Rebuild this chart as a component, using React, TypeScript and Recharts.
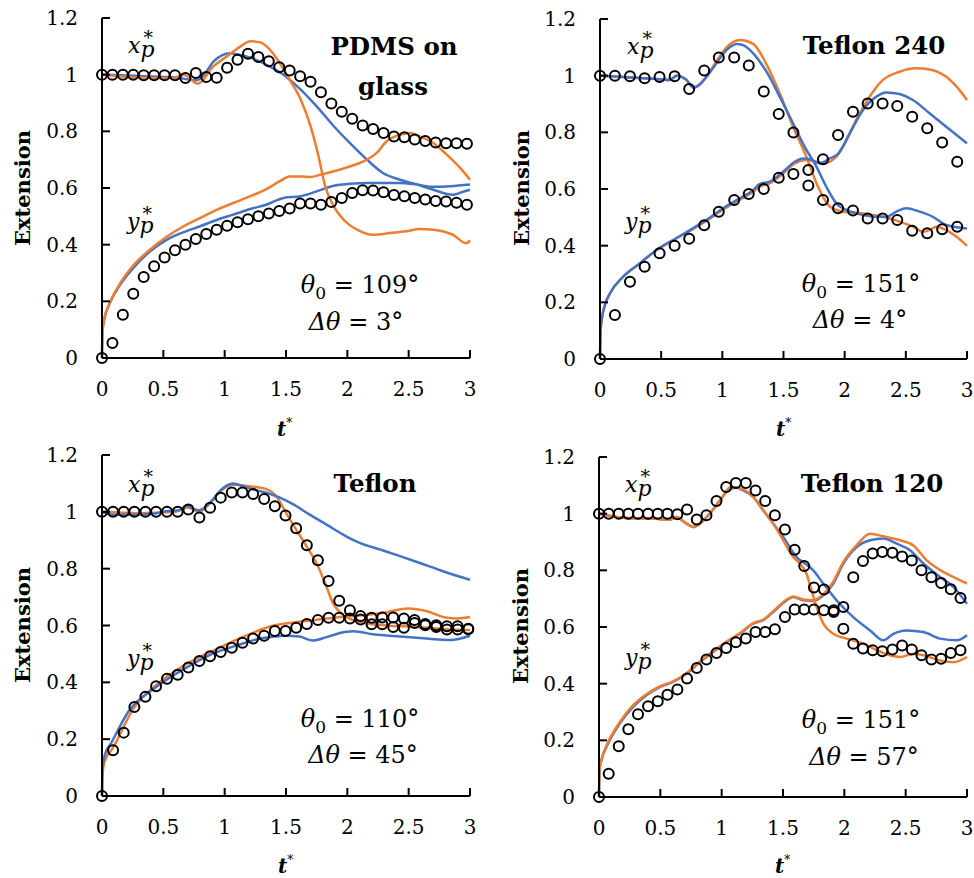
import React from 'react';
import { ComposedChart, Line, Scatter, XAxis, YAxis } from 'recharts';

const FONT = "'DejaVu Serif', serif";
const BLUE = '#4472C4';
const ORANGE = '#ED7D31';

const xTicks = [0, 0.5, 1, 1.5, 2, 2.5, 3];
const yTicks = [0, 0.2, 0.4, 0.6, 0.8, 1, 1.2];

// ---------- Panel 1: PDMS on glass ----------
const p1ExpT = [0, 0.085, 0.17, 0.255, 0.34, 0.425, 0.51, 0.595, 0.68, 0.765, 0.85, 0.935, 1.02, 1.105, 1.19, 1.275, 1.36, 1.445, 1.53, 1.615, 1.7, 1.785, 1.87, 1.955, 2.04, 2.125, 2.21, 2.295, 2.38, 2.465, 2.55, 2.635, 2.72, 2.805, 2.89, 2.975];
const p1ExpX = [1.0, 1.0, 1.0, 1.0, 0.998, 0.998, 0.998, 0.998, 0.988, 1.006, 0.992, 0.989, 1.024, 1.053, 1.074, 1.062, 1.047, 1.026, 1.015, 0.994, 0.975, 0.938, 0.898, 0.869, 0.844, 0.821, 0.808, 0.794, 0.782, 0.779, 0.771, 0.766, 0.761, 0.758, 0.758, 0.756];
const p1ExpY = [0, 0.053, 0.153, 0.227, 0.286, 0.324, 0.355, 0.38, 0.4, 0.42, 0.438, 0.453, 0.467, 0.479, 0.49, 0.5, 0.51, 0.519, 0.528, 0.545, 0.545, 0.541, 0.551, 0.565, 0.582, 0.592, 0.591, 0.585, 0.575, 0.571, 0.565, 0.559, 0.554, 0.552, 0.548, 0.541];
const p1BlueX = [[0, 1.0], [0.3, 0.995], [0.6, 0.99], [0.77, 0.98], [0.85, 1.01], [0.91, 1.047], [1.045, 1.076], [1.1, 1.072], [1.21, 1.06], [1.34, 1.035], [1.48, 1.0], [1.62, 0.947], [1.75, 0.888], [1.89, 0.818], [2.02, 0.759], [2.16, 0.7], [2.29, 0.653], [2.43, 0.629], [2.57, 0.612], [2.7, 0.594], [2.86, 0.576], [2.93, 0.585], [3.0, 0.594]];
const p1OrangeX = [[0, 1.0], [0.3, 0.99], [0.58, 0.988], [0.665, 1.0], [0.78, 0.968], [0.91, 1.03], [1.02, 1.065], [1.13, 1.1], [1.21, 1.118], [1.29, 1.114], [1.37, 1.088], [1.45, 1.04], [1.53, 0.982], [1.62, 0.912], [1.7, 0.818], [1.765, 0.712], [1.82, 0.606], [1.89, 0.535], [1.97, 0.488], [2.08, 0.453], [2.21, 0.435], [2.35, 0.441], [2.48, 0.447], [2.59, 0.455], [2.7, 0.453], [2.86, 0.435], [2.97, 0.405], [3.0, 0.415]];
const p1BlueY = [[0, 0], [0.005, 0.1], [0.02, 0.14], [0.06, 0.19], [0.15, 0.26], [0.26, 0.32], [0.39, 0.376], [0.53, 0.418], [0.665, 0.444], [0.8, 0.465], [0.94, 0.488], [1.07, 0.506], [1.21, 0.526], [1.34, 0.541], [1.48, 0.565], [1.62, 0.571], [1.75, 0.588], [1.89, 0.608], [2.02, 0.615], [2.16, 0.618], [2.43, 0.618], [2.57, 0.612], [2.7, 0.604], [2.84, 0.606], [3.0, 0.612]];
const p1OrangeY = [[0, 0], [0.005, 0.1], [0.02, 0.14], [0.06, 0.19], [0.15, 0.265], [0.26, 0.329], [0.39, 0.382], [0.53, 0.429], [0.665, 0.465], [0.8, 0.494], [0.94, 0.524], [1.07, 0.547], [1.21, 0.571], [1.34, 0.596], [1.45, 0.624], [1.53, 0.641], [1.62, 0.641], [1.7, 0.639], [1.78, 0.647], [1.89, 0.659], [2.02, 0.676], [2.16, 0.7], [2.24, 0.724], [2.32, 0.765], [2.43, 0.788], [2.51, 0.794], [2.59, 0.782], [2.7, 0.759], [2.81, 0.718], [2.92, 0.671], [3.0, 0.629]];

// ---------- Panel 2: Teflon 240 ----------
const p2ExpT = [0, 0.122, 0.245, 0.365, 0.487, 0.61, 0.729, 0.852, 0.971, 1.097, 1.216, 1.339, 1.461, 1.581, 1.703, 1.823, 1.946, 2.068, 2.188, 2.31, 2.43, 2.552, 2.675, 2.797, 2.92];
const p2ExpX = [1.0, 1.0, 0.998, 0.991, 0.995, 0.998, 0.953, 1.018, 1.064, 1.064, 1.036, 0.944, 0.865, 0.799, 0.612, 0.561, 0.532, 0.524, 0.496, 0.496, 0.491, 0.453, 0.444, 0.458, 0.467];
const p2ExpY = [0, 0.155, 0.273, 0.326, 0.373, 0.4, 0.424, 0.472, 0.52, 0.561, 0.582, 0.6, 0.64, 0.653, 0.667, 0.705, 0.791, 0.873, 0.902, 0.902, 0.893, 0.855, 0.814, 0.764, 0.696];
const p2BlueX = [[0, 1.0], [0.19, 0.995], [0.463, 0.988], [0.571, 0.985], [0.626, 1.0], [0.707, 0.985], [0.762, 0.958], [0.803, 0.965], [0.871, 0.996], [0.952, 1.044], [1.034, 1.09], [1.116, 1.112], [1.17, 1.108], [1.252, 1.079], [1.361, 1.014], [1.469, 0.926], [1.578, 0.832], [1.673, 0.749], [1.769, 0.679], [1.85, 0.608], [1.932, 0.549], [2.014, 0.526], [2.095, 0.514], [2.259, 0.502], [2.34, 0.502], [2.422, 0.52], [2.503, 0.532], [2.612, 0.52], [2.721, 0.502], [2.83, 0.473], [3.0, 0.461]];
const p2OrangeX = [[0, 1.0], [0.19, 0.995], [0.463, 0.988], [0.571, 0.985], [0.626, 1.0], [0.707, 0.985], [0.762, 0.958], [0.803, 0.965], [0.871, 0.996], [0.952, 1.05], [1.034, 1.1], [1.143, 1.126], [1.252, 1.112], [1.361, 1.04], [1.469, 0.938], [1.578, 0.82], [1.687, 0.714], [1.782, 0.608], [1.878, 0.538], [1.986, 0.52], [2.15, 0.514], [2.313, 0.502], [2.449, 0.485], [2.558, 0.467], [2.639, 0.449], [2.694, 0.455], [2.748, 0.467], [2.83, 0.455], [2.912, 0.432], [3.0, 0.399]];
const p2BlueY = [[0, 0], [0.005, 0.1], [0.014, 0.138], [0.04, 0.19], [0.082, 0.232], [0.19, 0.291], [0.327, 0.338], [0.463, 0.385], [0.599, 0.42], [0.735, 0.455], [0.871, 0.491], [1.007, 0.532], [1.143, 0.567], [1.252, 0.596], [1.306, 0.618], [1.388, 0.626], [1.497, 0.661], [1.592, 0.696], [1.66, 0.708], [1.714, 0.705], [1.796, 0.691], [1.878, 0.708], [1.946, 0.724], [2.041, 0.796], [2.15, 0.879], [2.259, 0.926], [2.34, 0.941], [2.449, 0.935], [2.558, 0.914], [2.694, 0.867], [2.83, 0.82], [3.0, 0.761]];
const p2OrangeY = [[0, 0], [0.005, 0.1], [0.014, 0.138], [0.04, 0.19], [0.082, 0.232], [0.19, 0.291], [0.327, 0.338], [0.463, 0.385], [0.599, 0.42], [0.735, 0.452], [0.871, 0.488], [1.007, 0.528], [1.143, 0.562], [1.252, 0.59], [1.306, 0.608], [1.388, 0.62], [1.497, 0.655], [1.592, 0.69], [1.687, 0.702], [1.769, 0.696], [1.823, 0.69], [1.932, 0.714], [1.986, 0.749], [2.095, 0.844], [2.204, 0.926], [2.313, 0.985], [2.449, 1.014], [2.585, 1.026], [2.694, 1.022], [2.83, 0.996], [2.939, 0.949], [3.0, 0.914]];

// ---------- Panel 3: Teflon ----------
const p3ExpT = [0, 0.09, 0.177, 0.264, 0.354, 0.441, 0.53, 0.617, 0.704, 0.794, 0.881, 0.968, 1.058, 1.145, 1.232, 1.322, 1.409, 1.496, 1.583, 1.67, 1.76, 1.847, 1.934, 2.021, 2.108, 2.198, 2.285, 2.374, 2.461, 2.548, 2.635, 2.725, 2.812, 2.899, 2.986];
const p3ExpX = [1.0, 1.0, 1.0, 1.0, 1.0, 1.0, 1.0, 1.0, 1.008, 0.98, 1.014, 1.05, 1.068, 1.068, 1.063, 1.045, 1.02, 0.987, 0.942, 0.882, 0.83, 0.757, 0.687, 0.654, 0.633, 0.627, 0.628, 0.628, 0.625, 0.619, 0.605, 0.601, 0.597, 0.597, 0.589];
const p3ExpY = [0, 0.161, 0.223, 0.313, 0.349, 0.386, 0.413, 0.427, 0.452, 0.475, 0.492, 0.507, 0.522, 0.539, 0.554, 0.564, 0.581, 0.581, 0.592, 0.605, 0.619, 0.627, 0.627, 0.625, 0.621, 0.604, 0.604, 0.595, 0.592, 0.609, 0.601, 0.595, 0.586, 0.586, 0.587];
const p3BlueX = [[0, 1.0], [0.09, 0.99], [0.25, 0.99], [0.41, 0.993], [0.52, 1.002], [0.63, 1.006], [0.69, 1.022], [0.74, 1.012], [0.79, 1.006], [0.88, 1.032], [0.96, 1.073], [1.04, 1.097], [1.07, 1.1], [1.15, 1.09], [1.23, 1.079], [1.34, 1.067], [1.45, 1.05], [1.56, 1.026], [1.69, 0.991], [1.83, 0.955], [1.99, 0.914], [2.1, 0.891], [2.27, 0.867], [2.43, 0.844], [2.59, 0.82], [2.78, 0.791], [3.0, 0.761]];
const p3OrangeX = [[0, 1.0], [0.3, 0.995], [0.6, 1.0], [0.7, 1.015], [0.79, 1.0], [0.88, 1.03], [0.96, 1.07], [1.06, 1.095], [1.2, 1.09], [1.34, 1.08], [1.42, 1.055], [1.5, 0.997], [1.585, 0.936], [1.67, 0.877], [1.75, 0.818], [1.82, 0.748], [1.885, 0.677], [1.97, 0.636], [2.1, 0.613], [2.29, 0.601], [2.56, 0.595], [2.84, 0.586], [3.0, 0.584]];
const p3BlueY = [[0, 0], [0.005, 0.1], [0.02, 0.14], [0.08, 0.19], [0.22, 0.3], [0.43, 0.38], [0.68, 0.45], [0.9, 0.5], [1.1, 0.53], [1.3, 0.555], [1.5, 0.564], [1.61, 0.561], [1.72, 0.547], [1.83, 0.559], [1.99, 0.578], [2.05, 0.58], [2.21, 0.569], [2.43, 0.561], [2.62, 0.555], [2.84, 0.549], [3.0, 0.564]];
const p3OrangeY = [[0, 0], [0.005, 0.08], [0.02, 0.12], [0.09, 0.17], [0.26, 0.31], [0.44, 0.39], [0.65, 0.455], [0.9, 0.51], [1.15, 0.56], [1.4, 0.6], [1.55, 0.61], [1.75, 0.62], [1.95, 0.63], [2.1, 0.635], [2.3, 0.645], [2.5, 0.66], [2.65, 0.65], [2.8, 0.628], [2.9, 0.625], [3.0, 0.63]];

// ---------- Panel 4: Teflon 120 ----------
const p4ExpT = [0, 0.079, 0.161, 0.239, 0.318, 0.4, 0.479, 0.558, 0.639, 0.718, 0.797, 0.876, 0.958, 1.037, 1.116, 1.197, 1.276, 1.355, 1.434, 1.516, 1.595, 1.673, 1.752, 1.834, 1.913, 1.992, 2.073, 2.152, 2.231, 2.31, 2.392, 2.471, 2.55, 2.629, 2.71, 2.789, 2.868, 2.947];
const p4ExpX = [1.0, 1.0, 1.0, 1.0, 1.0, 1.0, 1.0, 1.0, 0.998, 1.015, 0.979, 0.994, 1.045, 1.094, 1.108, 1.108, 1.082, 1.045, 0.994, 0.944, 0.873, 0.815, 0.739, 0.732, 0.659, 0.594, 0.541, 0.524, 0.518, 0.514, 0.521, 0.535, 0.521, 0.5, 0.485, 0.488, 0.508, 0.518];
const p4ExpY = [0, 0.082, 0.179, 0.239, 0.292, 0.32, 0.338, 0.361, 0.379, 0.418, 0.455, 0.485, 0.508, 0.526, 0.546, 0.559, 0.582, 0.582, 0.592, 0.635, 0.662, 0.662, 0.662, 0.659, 0.653, 0.671, 0.776, 0.833, 0.859, 0.865, 0.862, 0.849, 0.835, 0.8, 0.776, 0.755, 0.733, 0.702];
const p4BlueX = [[0, 1.0], [0.196, 0.986], [0.468, 0.982], [0.577, 0.979], [0.631, 0.988], [0.713, 0.965], [0.767, 0.953], [0.822, 0.965], [0.903, 1.0], [0.985, 1.047], [1.053, 1.082], [1.121, 1.092], [1.176, 1.082], [1.257, 1.059], [1.339, 1.012], [1.42, 0.965], [1.502, 0.918], [1.57, 0.871], [1.624, 0.841], [1.665, 0.829], [1.747, 0.8], [1.829, 0.753], [1.937, 0.694], [2.073, 0.635], [2.21, 0.588], [2.318, 0.553], [2.4, 0.576], [2.508, 0.588], [2.645, 0.582], [2.781, 0.559], [2.917, 0.553], [3.0, 0.571]];
const p4OrangeX = [[0, 1.0], [0.196, 0.986], [0.468, 0.982], [0.577, 0.979], [0.631, 0.988], [0.713, 0.965], [0.767, 0.953], [0.822, 0.965], [0.903, 1.0], [0.985, 1.045], [1.075, 1.094], [1.176, 1.085], [1.257, 1.059], [1.339, 1.012], [1.42, 0.965], [1.502, 0.906], [1.583, 0.847], [1.638, 0.824], [1.692, 0.788], [1.733, 0.729], [1.774, 0.671], [1.829, 0.612], [1.91, 0.576], [2.019, 0.559], [2.155, 0.541], [2.264, 0.518], [2.373, 0.5], [2.454, 0.494], [2.563, 0.506], [2.645, 0.5], [2.781, 0.482], [2.89, 0.476], [3.0, 0.494]];
const p4BlueY = [[0, 0], [0.005, 0.1], [0.02, 0.13], [0.073, 0.188], [0.169, 0.259], [0.278, 0.318], [0.387, 0.359], [0.496, 0.388], [0.604, 0.406], [0.713, 0.435], [0.822, 0.476], [0.931, 0.512], [1.04, 0.547], [1.148, 0.576], [1.257, 0.612], [1.339, 0.624], [1.42, 0.653], [1.529, 0.694], [1.583, 0.706], [1.665, 0.694], [1.747, 0.692], [1.829, 0.712], [1.91, 0.753], [1.992, 0.824], [2.101, 0.882], [2.21, 0.906], [2.318, 0.912], [2.427, 0.894], [2.536, 0.871], [2.645, 0.824], [2.781, 0.776], [2.89, 0.741], [3.0, 0.682]];
const p4OrangeY = [[0, 0], [0.005, 0.1], [0.02, 0.132], [0.073, 0.192], [0.169, 0.264], [0.278, 0.324], [0.387, 0.363], [0.496, 0.39], [0.604, 0.408], [0.713, 0.437], [0.822, 0.478], [0.931, 0.514], [1.04, 0.549], [1.148, 0.578], [1.257, 0.614], [1.339, 0.626], [1.42, 0.655], [1.529, 0.697], [1.583, 0.708], [1.665, 0.697], [1.747, 0.694], [1.829, 0.716], [1.91, 0.76], [1.992, 0.83], [2.101, 0.889], [2.21, 0.929], [2.318, 0.92], [2.454, 0.906], [2.563, 0.888], [2.672, 0.835], [2.808, 0.794], [2.917, 0.771], [3.0, 0.753]];

type Pt = { t: number; v: number };
const zipPts = (ts: number[], vs: number[]): Pt[] => ts.map((t, i) => ({ t, v: vs[i] }));
const pairPts = (ps: number[][]): Pt[] => ps.map(([t, v]) => ({ t, v }));

const NoLabel = () => <g />;
const Ring = (props: any) => (
  <circle cx={props.cx} cy={props.cy} r={5} fill="none" stroke="#000" strokeWidth={2} />
);

const tickStyle = { fill: '#000', fontSize: 20, fontFamily: FONT };
const frame = { stroke: '#000', strokeWidth: 2 };

type PanelProps = {
  left: number;
  top: number;
  margin: { top: number; right: number; bottom: number; left: number };
  expT: number[];
  expX: number[];
  expY: number[];
  blueX: number[][];
  blueY: number[][];
  orangeX: number[][];
  orangeY: number[][];
  blueOnTop: boolean;
};

function Panel(p: PanelProps) {
  const blue = [
    <Line key="bx" data={pairPts(p.blueX)} dataKey="v" type="monotone" stroke={BLUE} strokeWidth={2.5} dot={false} isAnimationActive={false} />,
    <Line key="by" data={pairPts(p.blueY)} dataKey="v" type="monotone" stroke={BLUE} strokeWidth={2.5} dot={false} isAnimationActive={false} />,
  ];
  const orange = [
    <Line key="ox" data={pairPts(p.orangeX)} dataKey="v" type="monotone" stroke={ORANGE} strokeWidth={2.5} dot={false} isAnimationActive={false} />,
    <Line key="oy" data={pairPts(p.orangeY)} dataKey="v" type="monotone" stroke={ORANGE} strokeWidth={2.5} dot={false} isAnimationActive={false} />,
  ];
  const lines = p.blueOnTop ? [...orange, ...blue] : [...blue, ...orange];
  return (
    <div style={{ position: 'absolute', left: p.left, top: p.top }}>
      <ComposedChart width={487} height={439} margin={p.margin}>
        <XAxis
          type="number"
          dataKey="t"
          domain={[0, 3]}
          ticks={xTicks}
          height={40}
          tickSize={-8}
          tickMargin={32}
          tick={tickStyle}
          tickLine={frame}
          axisLine={frame}
        />
        <XAxis
          xAxisId="top"
          orientation="top"
          mirror
          type="number"
          dataKey="t"
          domain={[0, 3]}
          ticks={xTicks}
          height={0}
          tickSize={8}
          tick={NoLabel}
          tickLine={frame}
          axisLine={frame}
        />
        <YAxis
          type="number"
          domain={[0, 1.2]}
          ticks={yTicks}
          width={60}
          tickSize={-8}
          tickMargin={32}
          tick={tickStyle}
          tickLine={frame}
          axisLine={frame}
        />
        <YAxis
          yAxisId="right"
          orientation="right"
          mirror
          type="number"
          domain={[0, 1.2]}
          ticks={yTicks}
          width={0}
          tickSize={8}
          tick={NoLabel}
          tickLine={frame}
          axisLine={frame}
        />
        {lines}
        <Scatter data={zipPts(p.expT, p.expX)} dataKey="v" shape={Ring} isAnimationActive={false} />
        <Scatter data={zipPts(p.expT, p.expY)} dataKey="v" shape={Ring} isAnimationActive={false} />
      </ComposedChart>
    </div>
  );
}

function Theta({ cx, y, v }: { cx: number; y: number; v: string }) {
  return (
    <text x={cx} y={y} textAnchor="middle" fontSize={24} fontFamily={FONT} fill="#000">
      <tspan fontStyle="italic">θ</tspan>
      <tspan fontSize={17} dy={6}>0</tspan>
      <tspan dy={-6}>{` = ${v}°`}</tspan>
    </text>
  );
}
function Delta({ cx, y, v }: { cx: number; y: number; v: string }) {
  return (
    <text x={cx} y={y} textAnchor="middle" fontSize={24} fontFamily={FONT} fill="#000">
      <tspan fontStyle="italic">Δθ</tspan>
      <tspan>{` = ${v}°`}</tspan>
    </text>
  );
}
function Sym({ x, y, letter }: { x: number; y: number; letter: string }) {
  return (
    <text x={x} y={y} fontFamily={FONT} fill="#000" fontSize={22} fontStyle="italic">
      {letter}
      <tspan dy={4}>p</tspan>
      <tspan dx={-11} dy={-13} fontSize={19} fontStyle="normal">*</tspan>
    </text>
  );
}
function TLabel({ x, y }: { x: number; y: number }) {
  return (
    <text x={x} y={y} fontFamily={FONT} fill="#000" fontSize={20} fontStyle="italic" fontWeight="bold">
      t
      <tspan dy={-9} fontSize={12} fontStyle="normal" fontWeight="normal">*</tspan>
    </text>
  );
}
function ExtLabel({ cx, cy }: { cx: number; cy: number }) {
  return (
    <text
      x={cx}
      y={cy}
      transform={`rotate(-90 ${cx} ${cy})`}
      textAnchor="middle"
      dominantBaseline="central"
      fontSize={21}
      fontWeight="bold"
      fontFamily={FONT}
      fill="#000"
    >
      Extension
    </text>
  );
}

export default function App() {
  return (
    <div style={{ position: 'absolute', left: 0, top: 0, width: 974, height: 878, background: '#fff' }}>
      <Panel left={0} top={0} margin={{ top: 18, right: 17, bottom: 41, left: 42 }}
        expT={p1ExpT} expX={p1ExpX} expY={p1ExpY} blueX={p1BlueX} blueY={p1BlueY} orangeX={p1OrangeX} orangeY={p1OrangeY} blueOnTop={false} />
      <Panel left={487} top={0} margin={{ top: 19, right: 7, bottom: 40, left: 53 }}
        expT={p2ExpT} expX={p2ExpX} expY={p2ExpY} blueX={p2BlueX} blueY={p2BlueY} orangeX={p2OrangeX} orangeY={p2OrangeY} blueOnTop={true} />
      <Panel left={0} top={439} margin={{ top: 16, right: 17, bottom: 42, left: 42 }}
        expT={p3ExpT} expX={p3ExpX} expY={p3ExpY} blueX={p3BlueX} blueY={p3BlueY} orangeX={p3OrangeX} orangeY={p3OrangeY} blueOnTop={true} />
      <Panel left={487} top={439} margin={{ top: 18, right: 7, bottom: 41, left: 52 }}
        expT={p4ExpT} expX={p4ExpX} expY={p4ExpY} blueX={p4BlueX} blueY={p4BlueY} orangeX={p4OrangeX} orangeY={p4OrangeY} blueOnTop={false} />
      <svg width={974} height={878} style={{ position: 'absolute', left: 0, top: 0, pointerEvents: 'none' }}>
        <ExtLabel cx={22} cy={188} />
        <ExtLabel cx={521} cy={188} />
        <ExtLabel cx={22} cy={625} />
        <ExtLabel cx={520} cy={626} />
        <TLabel x={277} y={436} />
        <TLabel x={776} y={436} />
        <TLabel x={278} y={873} />
        <TLabel x={775} y={873} />
        <Sym x={128} y={53} letter="x" />
        <Sym x={127} y={229} letter="y" />
        <Sym x={627} y={54} letter="x" />
        <Sym x={625} y={229} letter="y" />
        <Sym x={128} y={492} letter="x" />
        <Sym x={127} y={666} letter="y" />
        <Sym x={625} y={492} letter="x" />
        <Sym x={625} y={665} letter="y" />
        <g fontFamily={FONT} fontWeight="bold" fontSize={24.5} fill="#000" textAnchor="middle">
          <text x={394} y={55}>PDMS on</text>
          <text x={393} y={95}>glass</text>
          <text x={874} y={54}>Teflon 240</text>
          <text x={375} y={492}>Teflon</text>
          <text x={872} y={492}>Teflon 120</text>
        </g>
        <Theta cx={360} y={293} v="109" />
        <Delta cx={356} y={330} v="3" />
        <Theta cx={861} y={292} v="151" />
        <Delta cx={860} y={328} v="4" />
        <Theta cx={360} y={727} v="110" />
        <Delta cx={363} y={763} v="45" />
        <Theta cx={861} y={728} v="151" />
        <Delta cx={864} y={765} v="57" />
      </svg>
    </div>
  );
}
